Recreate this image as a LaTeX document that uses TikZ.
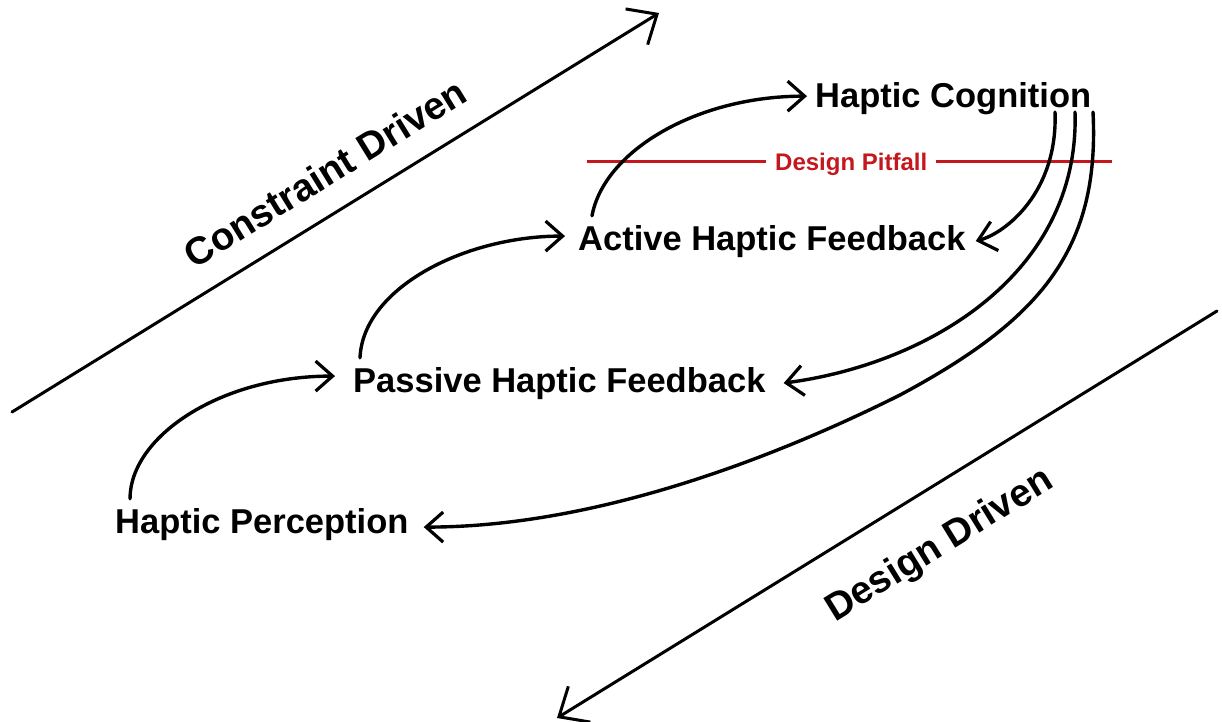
\documentclass[tikz,border=0pt]{standalone}
\usepackage{fontspec}
\setmainfont{Liberation Sans}
\usetikzlibrary{arrows.meta,calc}
\definecolor{pitred}{RGB}{196,24,30}
\tikzset{
  lbl/.style={inner sep=0pt, anchor=base west, font=\fontsize{34.5}{40}\selectfont\bfseries},
  axislbl/.style={inner sep=0pt, font=\fontsize{38.5}{44}\selectfont\bfseries, rotate=31.66},
  pitlbl/.style={inner sep=0pt, anchor=base west, text=pitred, font=\fontsize{24}{28}\selectfont\bfseries},
  flow/.style={line width=3.4pt, line cap=round, line join=round,
    -{Straight Barb[length=17pt,width=30pt,line width=3.2pt]}},
  axis/.style={line width=3pt, line cap=round, line join=round,
    -{Straight Barb[length=24pt,width=42pt,line width=3pt]}},
  pitline/.style={line width=3pt, draw=pitred}
}
\begin{document}
\begin{tikzpicture}[x=1pt,y=-1pt]
\useasboundingbox[fill=white] (0,0) rectangle (1222,721);

% axes
\coordinate (c0) at (12,412);
\coordinate (c1) at (659,13);
\coordinate (d0) at (1217,311);
\coordinate (d1) at (557,718);
\draw[axis] (c0) -- (c1);
\draw[axis] (d0) -- (d1);
\node[axislbl] (cd) at (325,173) {Constraint Driven};
\node[axislbl] (dd) at (940,546) {Design Driven};

% labels
\node[lbl] (cog) at (815,107) {Haptic Cognition};
\node[lbl] (act) at (578,250) {Active Haptic Feedback};
\node[lbl] (pas) at (353,392) {Passive Haptic Feedback};
\node[lbl] (per) at (115,533) {Haptic Perception};
\node[pitlbl] (pit) at (775,170) {Design Pitfall};

% design pitfall line
\coordinate (pl) at (587,161);
\coordinate (pr) at (1112,161);
\draw[pitline] (pl) -- ([xshift=-9pt]pl -| pit.west);
\draw[pitline] ([xshift=9pt]pr -| pit.east) -- (pr);

% upward flow
\draw[flow] ([shift={(15pt,9pt)}]per.north west)
  .. controls +(0,-62) and +(-115,0) .. ([shift={(-18pt,7pt)}]pas.west);
\draw[flow] ([shift={(7pt,9pt)}]pas.north west)
  .. controls +(3,-70) and +(-100,0) .. ([shift={(-13pt,5pt)}]act.west);
\draw[flow] ([shift={(14pt,9pt)}]act.north west)
  .. controls +(12,-65) and +(-110,0) .. ([shift={(-8pt,2pt)}]cog.west);

% downward flow
\draw[flow] ([shift={(240pt,-5pt)}]cog.base west)
  .. controls +(3,80) and +(30,-8) .. ([xshift=10pt]act.east);
\draw[flow] ([shift={(260pt,-5pt)}]cog.base west)
  .. controls +(5,158) and +(150,-20) .. ([xshift=18pt]pas.east);
\draw[flow] ([shift={(278pt,-5pt)}]cog.base west)
  .. controls +(7,138) and +(140,-75) .. (900,395)
  .. controls +(-120,60) and +(175,0) .. ([shift={(15pt,-3pt)}]per.east);
\end{tikzpicture}
\end{document}
